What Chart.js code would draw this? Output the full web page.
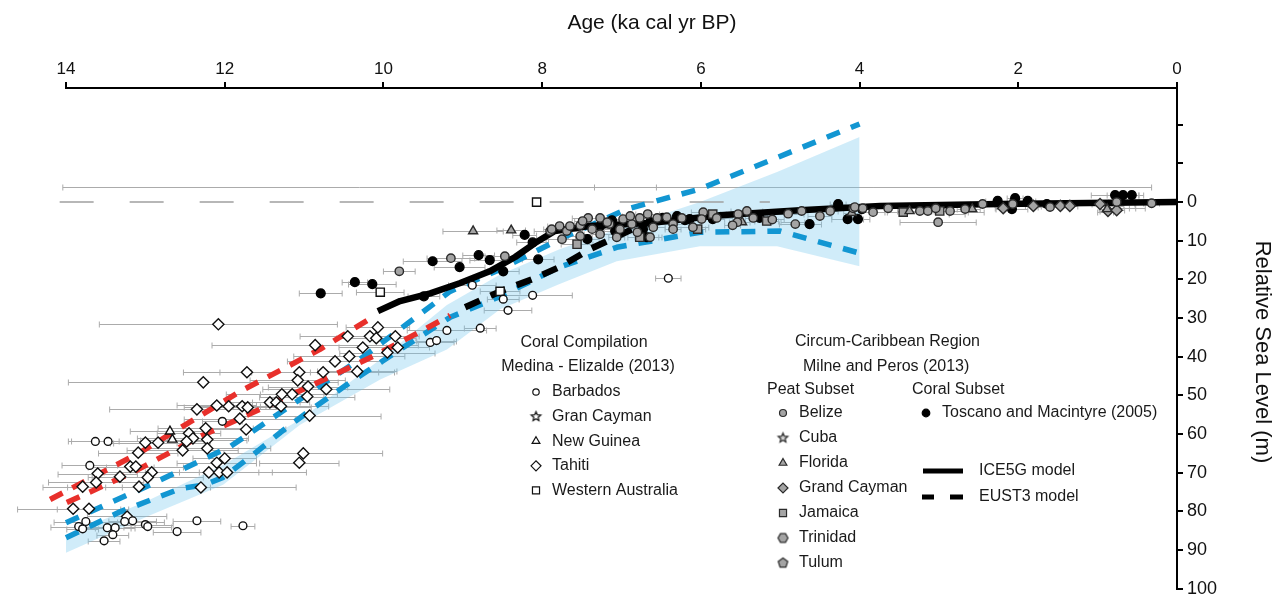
<!DOCTYPE html>
<html>
<head>
<meta charset="utf-8">
<title>Relative sea level, Circum-Caribbean</title>
<script src="https://cdn.jsdelivr.net/npm/chart.js@4.4.1/dist/chart.umd.min.js"></script>
<style>
  html, body { margin: 0; padding: 0; background: #fff; }
  #wrap { width: 1285px; height: 596px; }
</style>
</head>
<body>
<div id="wrap"><canvas id="rslChart" width="1285" height="596"></canvas></div>
<script>
// tick values: age (ka cal yr BP) along the top, sea level (m) on the right
const ageTickValues = [0, 2, 4, 6, 8, 10, 12, 14];
const levelTickValues = [-20, -10, 0, 10, 20, 30, 40, 50, 60, 70, 80, 90, 100];

// coral compilation, Medina-Elizalde (2013): [age ka, sea level m, age error ka]
const barbados = [
  [13.63, 61.9, 0.3], [13.47, 61.9, 0.5], [13.70, 68.1, 0.35], [12.03, 56.7, 0.25],
  [9.20, 33.2, 0.5], [9.41, 36.3, 0.3], [9.33, 35.8, 0.25], [8.78, 32.6, 0.2],
  [12.35, 82.4, 0.3], [11.77, 83.7, 0.15], [12.60, 85.2, 0.3], [13.84, 83.9, 0.35],
  [13.79, 84.5, 0.2], [13.75, 82.6, 0.4], [13.48, 84.2, 0.3], [13.38, 84.2, 0.25],
  [13.41, 86.0, 0.2], [13.52, 87.6, 0.2], [13.26, 82.6, 0.5], [13.16, 82.4, 0.3],
  [13.00, 83.4, 0.35], [12.97, 83.9, 0.3], [8.88, 21.5, 0.3], [8.49, 25.1, 0.2],
  [8.43, 28.0, 0.3], [8.12, 24.1, 0.5], [6.41, 19.7, 0.16]
];
const granCayman = [[10.30, -3.9, 3.74], [3.83, -3.9, 3.51]];
const newGuinea = [[12.69, 59.3, 0.5], [12.66, 61.4, 0.4]];
const tahiti = [
  [12.08, 31.6, 1.5], [10.07, 32.4, 0.4], [10.45, 34.7, 0.6], [10.17, 34.7, 0.3],
  [10.09, 35.2, 0.5], [9.85, 34.7, 0.3], [10.86, 37.0, 1.3], [10.26, 37.6, 0.3],
  [9.95, 38.9, 0.6], [9.82, 37.6, 0.4], [10.43, 39.9, 0.7], [10.61, 41.2, 0.6],
  [10.33, 43.8, 0.5], [10.76, 44.0, 0.9], [11.06, 44.0, 1.0], [11.72, 44.0, 0.8],
  [11.08, 46.1, 0.6], [12.27, 46.6, 1.7], [10.95, 47.7, 0.5], [10.72, 48.4, 0.8],
  [11.15, 49.7, 0.4], [10.96, 50.3, 0.6], [11.28, 49.7, 0.7], [11.43, 51.8, 0.5],
  [11.35, 51.8, 0.3], [11.29, 52.8, 0.6], [12.35, 53.6, 1.1], [12.10, 52.6, 0.5],
  [11.95, 52.8, 0.4], [11.78, 52.8, 0.3], [11.71, 53.1, 0.8], [10.93, 55.2, 0.9],
  [11.81, 56.0, 0.7], [11.73, 58.8, 0.5], [12.24, 58.5, 0.6], [12.45, 59.8, 0.4],
  [12.40, 61.1, 0.7], [12.48, 61.9, 0.3], [12.22, 61.4, 0.5], [12.22, 63.7, 0.8],
  [13.00, 62.2, 0.4], [12.84, 62.2, 0.6], [13.09, 64.8, 0.5], [12.53, 64.2, 0.7],
  [11.01, 65.0, 1.0], [11.06, 67.4, 0.5], [12.10, 67.4, 0.5], [12.00, 66.3, 0.4],
  [13.19, 68.4, 0.3], [13.12, 68.4, 0.6], [12.20, 69.9, 0.8], [12.07, 69.9, 0.5],
  [11.97, 69.9, 1.0], [13.60, 70.2, 0.5], [13.32, 71.0, 0.4], [12.92, 69.9, 0.6],
  [12.97, 71.2, 0.7], [13.62, 72.5, 0.6], [13.79, 73.6, 0.5], [13.08, 73.6, 0.9],
  [12.30, 73.8, 1.2], [13.91, 79.3, 0.7], [13.71, 79.3, 0.4], [13.23, 81.3, 0.5]
];
const westernAustralia = [[8.07, 0.0, 0], [10.04, 23.3, 0.3], [8.53, 23.1, 0.25]];

// Circum-Caribbean peat subset, Milne and Peros (2013)
const belize = [
  [9.80, 17.9, 0.2], [9.15, 14.5, 0.3], [8.47, 14.0, 0.25], [7.90, 7.5, 0.2],
  [7.78, 6.2, 0.15], [7.69, 7.5, 0.2], [7.52, 6.0, 0.15], [7.42, 4.1, 0.2],
  [7.27, 4.1, 0.15], [7.15, 5.7, 0.2], [6.98, 4.4, 0.15], [6.87, 5.7, 0.2],
  [6.77, 4.1, 0.1], [6.67, 3.1, 0.15], [6.55, 4.1, 0.2], [6.43, 3.9, 0.15],
  [6.35, 5.7, 0.2], [6.24, 4.1, 0.1], [6.10, 6.5, 0.2], [5.97, 2.6, 0.15],
  [5.80, 4.1, 0.2], [5.53, 3.1, 0.15], [5.42, 2.3, 0.2], [5.34, 4.1, 0.1],
  [4.73, 2.3, 0.2], [4.50, 3.6, 0.15], [4.37, 2.3, 0.1], [4.08, 1.6, 0.2],
  [3.83, 2.6, 0.15], [3.64, 1.6, 0.2], [7.75, 9.6, 0.2], [7.52, 8.8, 0.15],
  [7.27, 8.3, 0.2], [7.06, 9.1, 0.1], [6.80, 7.8, 0.2], [6.64, 9.1, 0.15],
  [5.54, 5.2, 0.1], [4.81, 5.7, 0.2], [7.88, 7.0, 0.1], [7.37, 7.0, 0.15],
  [7.18, 5.2, 0.1], [7.02, 7.0, 0.2], [6.89, 3.6, 0.1], [6.60, 6.5, 0.15],
  [6.35, 7.0, 0.1], [5.99, 4.4, 0.2], [7.49, 4.9, 0.1], [7.65, 6.2, 0.15],
  [4.06, 1.3, 0.1], [3.96, 1.6, 0.15], [3.24, 2.3, 0.2], [3.14, 2.3, 0.1],
  [3.04, 1.6, 0.15], [2.86, 2.3, 0.2], [2.67, 1.8, 0.1], [3.01, 5.2, 0.48],
  [2.45, 0.5, 0.15], [2.07, 0.5, 0.2], [1.60, 1.3, 0.15], [0.76, 0.0, 0.1],
  [0.32, 0.3, 0.1], [5.10, 4.5, 0.15], [5.60, 6.0, 0.1], [4.90, 3.0, 0.2]
];
const cuba = [[2.53, 2.6, 0.1], [0.43, 0.5, 0.1], [0.82, 1.0, 0.15]];
const florida = [
  [8.87, 7.5, 0.38], [8.39, 7.3, 0.18], [5.48, 5.2, 0.1], [3.37, 2.3, 0.15],
  [2.58, 1.8, 0.1], [0.88, 1.8, 0.1], [4.10, 2.8, 0.1]
];
const grandCayman = [
  [2.19, 1.6, 0.1], [1.81, 1.0, 0.1], [1.47, 1.0, 0.1], [1.35, 1.0, 0.1],
  [0.87, 2.3, 0.1], [0.76, 2.1, 0.1], [0.97, 0.5, 0.1]
];
const jamaica = [
  [7.56, 10.9, 0.2], [6.77, 9.1, 0.15], [6.04, 7.0, 0.1], [5.17, 4.9, 0.15],
  [3.45, 2.6, 0.2], [2.99, 2.3, 0.1], [5.85, 3.1, 0.1]
];
const trinidad = [[0.62, 1.6, 0.1], [2.77, 3.1, 0.1], [4.84, 5.2, 0.15]];
const tulum = [[0.50, 1.5, 0.1], [0.90, 2.6, 0.1]];

// coral subset, Toscano and Macintyre (2005)
const toscano = [
  [8.22, 8.5, 0.15], [8.12, 10.4, 0.2], [8.80, 13.7, 0.2], [8.66, 15.0, 0.25],
  [9.38, 15.3, 0.37], [9.04, 16.8, 0.32], [8.49, 17.9, 0.2], [8.05, 14.8, 0.2],
  [10.36, 20.7, 0.16], [10.14, 21.2, 0.3], [10.79, 23.6, 0.27], [9.49, 24.4, 0.2],
  [7.43, 9.6, 0.15], [7.12, 4.7, 0.1], [7.08, 7.5, 0.2], [6.73, 7.0, 0.15],
  [6.64, 5.2, 0.1], [6.48, 4.1, 0.15], [6.30, 3.6, 0.1], [6.20, 4.7, 0.2],
  [5.85, 4.4, 0.15], [5.26, 4.1, 0.1], [4.63, 5.7, 0.15], [4.27, 0.5, 0.1],
  [4.15, 4.4, 0.2], [4.02, 4.4, 0.15], [3.97, 1.8, 0.1], [2.26, -0.3, 0.15],
  [2.04, -1.0, 0.1], [2.08, 1.8, 0.2], [1.88, -0.3, 0.1], [1.64, 0.5, 0.1],
  [0.78, -1.8, 0.3], [0.68, -1.8, 0.2], [0.57, -1.8, 0.15], [7.27, 6.2, 0.1],
  [6.14, 4.4, 0.1], [6.68, 9.1, 0.15]
];

// model curves: [age ka, sea level m]
const ice5g = [
  [10.07, 28.2], [9.79, 25.6], [9.41, 23.6], [9.04, 21.0], [8.66, 17.9], [8.34, 14.2],
  [8.09, 10.6], [7.84, 7.5], [7.40, 6.2], [6.64, 5.4], [5.76, 3.4], [4.75, 2.1],
  [3.74, 1.0], [2.23, 0.5], [0, 0]
];
const eust3 = [
  [8.97, 27.2], [8.53, 23.1], [8.12, 19.9], [7.78, 16.8], [7.40, 12.2], [7.08, 9.1], [6.70, 5.4]
];
const ice5gRed = [[14.20, 76.9], [13.07, 64.8], [11.81, 49.0], [10.80, 38.1], [10.14, 29.8]];
const eust3Red = [
  [13.99, 77.7], [13.16, 69.9], [12.31, 60.6], [11.47, 52.8], [10.80, 46.4],
  [10.13, 39.9], [9.48, 32.9], [9.16, 29.3]
];
const blueUpper = [
  [14, 82.9], [12.94, 73.1], [11.93, 63.2], [11.05, 51.0], [10.30, 40.7], [9.54, 29.0],
  [9.16, 23.1], [8.53, 17.4], [7.78, 9.6], [6.93, 1.8], [6.01, -3.4], [4.0, -20.2]
];
const blueLower = [
  [14, 86.8], [13.32, 80.1], [12.56, 74.1], [12.25, 73.1], [12.02, 71.2], [11.64, 65.3],
  [11.30, 59.6], [10.96, 54.4], [10.46, 47.2], [9.79, 38.1], [9.16, 29.8], [8.53, 24.4],
  [7.78, 16.8], [7.06, 11.7], [6.01, 7.8], [5.0, 7.5], [4.0, 13.2]
];
const bandAges = [14, 12.94, 12.02, 11.05, 10.04, 9.2, 8.53, 7.78, 7.06, 6.01, 5.04, 4.0];
const bandTop = [86.3, 76.9, 68.0, 56.2, 40.7, 26.6, 18.7, 12.2, 7.0, 0.0, -7.8, -16.8];
const bandBottom = [90.7, 81.0, 73.1, 57.6, 45.9, 38.1, 27.7, 21.2, 15.3, 11.4, 11.4, 16.6];
const zeroGuide = [[14.08, 0], [5.13, 0]];

const FONT = '"Liberation Sans", Arial, sans-serif';
const GREY = '#a4a4a4';
const EDGE = '#2b2b2b';

// star / hexagon / pentagon markers are drawn onto small canvases
function shapeCanvas(kind, r, fill, stroke, lw) {
  const size = Math.ceil(2 * r + lw + 3);
  const c = document.createElement('canvas');
  c.width = size;
  c.height = size;
  const g = c.getContext('2d');
  const cx = size / 2, cy = size / 2;
  g.beginPath();
  if (kind === 'star') {
    for (let i = 0; i < 10; i++) {
      const rr = i % 2 === 0 ? r : r * 0.45;
      const a = -Math.PI / 2 + i * Math.PI / 5;
      g.lineTo(cx + rr * Math.cos(a), cy + rr * Math.sin(a));
    }
  } else {
    const n = kind === 'hexagon' ? 6 : 5;
    const start = kind === 'hexagon' ? 0 : -Math.PI / 2;
    for (let i = 0; i < n; i++) {
      const a = start + i * 2 * Math.PI / n;
      g.lineTo(cx + r * Math.cos(a), cy + r * Math.sin(a));
    }
  }
  g.closePath();
  g.fillStyle = fill;
  g.fill();
  g.lineWidth = lw;
  g.strokeStyle = stroke;
  g.stroke();
  return c;
}

const openStar = shapeCanvas('star', 6.2, '#fff', '#111', 1.3);
const greyStar = shapeCanvas('star', 6, '#d4d4d4', EDGE, 1.2);
const greyHex = shapeCanvas('hexagon', 5.8, GREY, EDGE, 1.2);
const greyPent = shapeCanvas('pentagon', 5.8, GREY, EDGE, 1.2);

function points(label, rows, style, radius, fill, stroke, order) {
  return {
    type: 'scatter',
    label: label,
    data: rows.map(r => ({ x: r[0], y: r[1] })),
    ageErr: rows.map(r => r[2]),
    pointStyle: style,
    pointRadius: radius,
    pointBackgroundColor: fill,
    pointBorderColor: stroke,
    pointBorderWidth: 1.4,
    order: order
  };
}

function curve(label, rows, color, width, dash, order) {
  return {
    type: 'line',
    label: label,
    data: rows.map(r => ({ x: r[0], y: r[1] })),
    borderColor: color,
    borderWidth: width,
    borderDash: dash,
    borderCapStyle: 'butt',
    borderJoinStyle: 'round',
    pointRadius: 0,
    fill: false,
    clip: false,
    order: order
  };
}

// horizontal age error bars with small end caps
const ageErrorBars = {
  id: 'ageErrorBars',
  beforeDatasetsDraw(chart) {
    const { ctx, scales: { x, y } } = chart;
    ctx.save();
    ctx.lineWidth = 1;
    ctx.strokeStyle = '#ababab';
    chart.data.datasets.forEach(ds => {
      if (!ds.ageErr) return;
      ds.data.forEach((p, j) => {
        const e = ds.ageErr[j];
        if (!e) return;
        const py = Math.round(y.getPixelForValue(p.y)) + 0.5;
        const x1 = x.getPixelForValue(p.x + e);
        const x2 = x.getPixelForValue(p.x - e);
        ctx.beginPath();
        ctx.moveTo(x1, py);
        ctx.lineTo(x2, py);
        ctx.moveTo(x1, py - 3);
        ctx.lineTo(x1, py + 3);
        ctx.moveTo(x2, py - 3);
        ctx.lineTo(x2, py + 3);
        ctx.stroke();
      });
    });
    ctx.restore();
  }
};

function keyMark(ctx, style, r, fill, stroke, x, y) {
  ctx.fillStyle = fill;
  ctx.strokeStyle = stroke;
  ctx.lineWidth = 1.2;
  Chart.helpers.drawPoint(ctx, { pointStyle: style, radius: r, rotation: 0, borderWidth: 1.2 }, x, y);
}

// axis titles and the two-part key
const annotations = {
  id: 'annotations',
  afterDraw(chart) {
    const ctx = chart.ctx;
    ctx.save();
    ctx.fillStyle = '#111';
    ctx.font = '21px ' + FONT;
    ctx.textAlign = 'center';
    ctx.textBaseline = 'alphabetic';
    ctx.fillText('Age (ka cal yr BP)', 652, 29);
    ctx.save();
    ctx.translate(1256, 352);
    ctx.rotate(Math.PI / 2);
    ctx.font = '22px ' + FONT;
    ctx.fillText('Relative Sea Level (m)', 0, 0);
    ctx.restore();

    ctx.font = '16px ' + FONT;
    ctx.fillStyle = '#1a1a1a';
    ctx.textBaseline = 'middle';
    ctx.textAlign = 'center';
    ctx.fillText('Coral Compilation', 584, 343);
    ctx.fillText('Medina - Elizalde (2013)', 588, 367);
    ctx.textAlign = 'left';
    const coral = [
      ['Barbados', 'circle', 3.2],
      ['Gran Cayman', shapeCanvas('star', 5, '#fff', '#111', 1.2), 0],
      ['New Guinea', 'triangle', 4.5],
      ['Tahiti', 'rectRot', 5],
      ['Western Australia', 'rect', 5]
    ];
    coral.forEach((k, i) => {
      const y = 392 + i * 24.6;
      keyMark(ctx, k[1], k[2], '#fff', '#111', 536, y);
      ctx.fillStyle = '#1a1a1a';
      ctx.fillText(k[0], 552, y);
    });

    ctx.fillText('Circum-Caribbean Region', 795, 342);
    ctx.fillText('Milne and Peros (2013)', 803, 367);
    ctx.fillText('Peat Subset', 767, 390);
    ctx.fillText('Coral Subset', 912, 390);
    const peat = [
      ['Belize', 'circle', 3.5],
      ['Cuba', shapeCanvas('star', 5, '#d4d4d4', EDGE, 1.2), 0],
      ['Florida', 'triangle', 4.5],
      ['Grand Cayman', 'rectRot', 5],
      ['Jamaica', 'rect', 5],
      ['Trinidad', shapeCanvas('hexagon', 5, GREY, EDGE, 1.2), 0],
      ['Tulum', shapeCanvas('pentagon', 5, GREY, EDGE, 1.2), 0]
    ];
    peat.forEach((k, i) => {
      const y = 413 + i * 25;
      keyMark(ctx, k[1], k[2], GREY, EDGE, 783, y);
      ctx.fillStyle = '#1a1a1a';
      ctx.fillText(k[0], 799, y);
    });
    keyMark(ctx, 'circle', 3.8, '#000', '#000', 926, 413);
    ctx.fillStyle = '#1a1a1a';
    ctx.fillText('Toscano and Macintyre (2005)', 942, 413);

    ctx.strokeStyle = '#000';
    ctx.lineWidth = 5;
    ctx.beginPath();
    ctx.moveTo(923, 471);
    ctx.lineTo(963, 471);
    ctx.moveTo(922, 497);
    ctx.lineTo(934, 497);
    ctx.moveTo(950, 497);
    ctx.lineTo(963, 497);
    ctx.stroke();
    ctx.fillText('ICE5G model', 979, 471);
    ctx.fillText('EUST3 model', 979, 497);
    ctx.restore();
  }
};

const datasets = [
  // peat and coral observations (drawn over the model curves)
  points('Belize', belize, 'circle', 4.2, GREY, EDGE, 1),
  points('Cuba', cuba, greyStar, 0, GREY, EDGE, 1),
  points('Florida', florida, 'triangle', 5.2, GREY, EDGE, 1),
  points('Grand Cayman', grandCayman, 'rectRot', 5.6, GREY, EDGE, 1),
  points('Jamaica', jamaica, 'rect', 5.8, GREY, EDGE, 1),
  points('Trinidad', trinidad, greyHex, 0, GREY, EDGE, 1),
  points('Tulum', tulum, greyPent, 0, GREY, EDGE, 1),
  points('Toscano and Macintyre (2005)', toscano, 'circle', 4.4, '#000', '#000', 2),
  points('Barbados', barbados, 'circle', 3.9, '#fff', '#111', 3),
  points('Gran Cayman', granCayman, openStar, 0, '#fff', '#111', 3),
  points('New Guinea', newGuinea, 'triangle', 5.2, '#fff', '#111', 3),
  points('Tahiti', tahiti, 'rectRot', 5.6, '#fff', '#111', 3),
  points('Western Australia', westernAustralia, 'rect', 5.8, '#fff', '#111', 3),
  // model curves
  curve('ICE5G model', ice5g, '#000', 6.5, [], 10),
  curve('EUST3 model', eust3, '#000', 6.5, [16, 12], 10),
  curve('ICE5G (red)', ice5gRed, '#e8302b', 5.5, [14, 11], 11),
  curve('EUST3 (red)', eust3Red, '#e8302b', 5.5, [14, 11], 11),
  curve('Envelope upper', blueUpper, '#1296d2', 5.5, [14, 12], 12),
  curve('Envelope lower', blueLower, '#1296d2', 5.5, [14, 12], 12),
  curve('Zero guide', zeroGuide, '#a0a0a0', 1.5, [34, 36], 13),
  // light blue band
  {
    type: 'line', label: 'band top',
    data: bandAges.map((a, i) => ({ x: a, y: bandTop[i] })),
    borderWidth: 0, pointRadius: 0, fill: '+1',
    backgroundColor: 'rgba(118, 200, 236, 0.34)', order: 20
  },
  {
    type: 'line', label: 'band bottom',
    data: bandAges.map((a, i) => ({ x: a, y: bandBottom[i] })),
    borderWidth: 0, pointRadius: 0, fill: false, order: 21
  }
];

new Chart(document.getElementById('rslChart'), {
  type: 'scatter',
  data: { datasets: datasets },
  options: {
    responsive: false,
    animation: false,
    devicePixelRatio: 1,
    events: [],
    layout: { padding: { left: 66, right: 0, top: 0, bottom: 7 } },
    plugins: { legend: { display: false }, tooltip: { enabled: false } },
    scales: {
      x: {
        type: 'linear',
        position: 'top',
        reverse: true,
        min: 0,
        max: 14,
        afterBuildTicks: s => { s.ticks = ageTickValues.map(v => ({ value: v })); },
        afterFit: s => { s.height = 88; s.paddingLeft = 0; s.paddingRight = 0; },
        ticks: { font: { family: FONT, size: 17 }, color: '#111', padding: 2, maxRotation: 0, autoSkip: false },
        grid: { drawOnChartArea: false, drawTicks: true, tickLength: 6, lineWidth: 2, color: '#000' },
        border: { display: true, width: 2, color: '#000' }
      },
      y: {
        type: 'linear',
        position: 'right',
        reverse: true,
        min: -29.5,
        max: 100,
        afterBuildTicks: s => { s.ticks = levelTickValues.map(v => ({ value: v })); },
        afterFit: s => { s.width = 108; s.paddingTop = 0; s.paddingBottom = 0; },
        ticks: {
          font: { family: FONT, size: 18 }, color: '#111', padding: 4, autoSkip: false,
          callback: v => (v < 0 ? '' : v)
        },
        grid: { drawOnChartArea: false, drawTicks: true, tickLength: 6, lineWidth: 2, color: '#000' },
        border: { display: true, width: 2, color: '#000' }
      }
    }
  },
  plugins: [ageErrorBars, annotations]
});
</script>
</body>
</html>
